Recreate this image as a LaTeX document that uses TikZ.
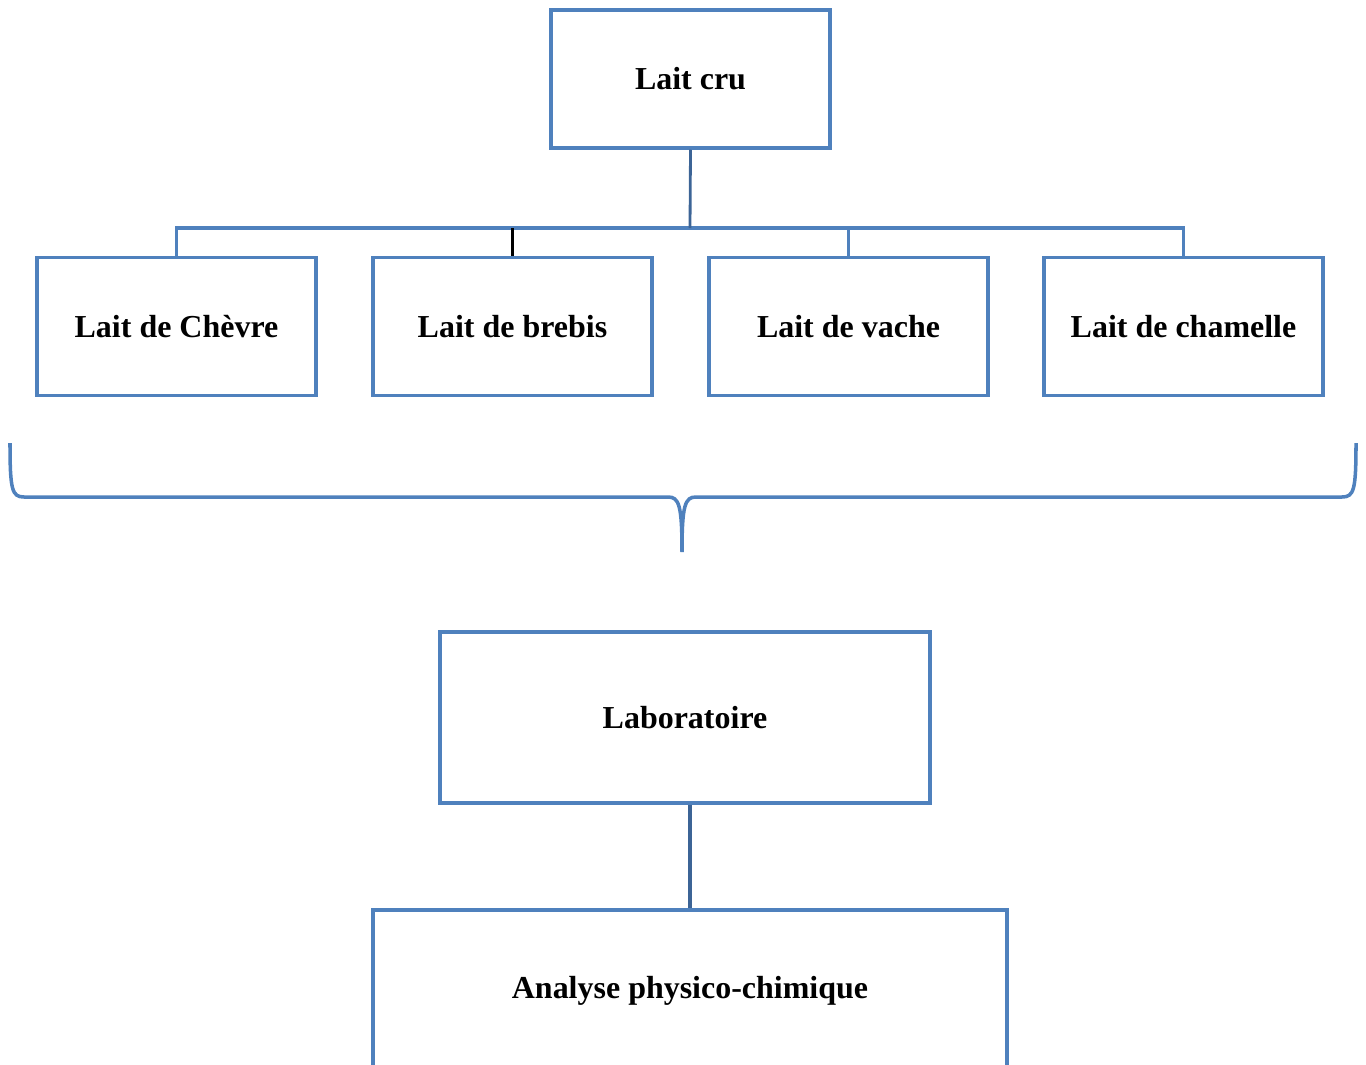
\documentclass[tikz,border=0pt]{standalone}
\usepackage{fontspec}
\setmainfont{Liberation Serif}
\definecolor{boxblue}{HTML}{4F81BD}
\definecolor{darkblue}{HTML}{3C6496}
\begin{document}
\begin{tikzpicture}[x=0.02cm,y=-0.02cm,
  box/.style={draw=boxblue,line width=2pt,rectangle,inner sep=0pt,
    minimum width=5.58cm,minimum height=2.76cm,font=\fontsize{18.2}{21}\selectfont\bfseries},
  conn/.style={draw=boxblue,line width=2pt},
]
\useasboundingbox (0,0) rectangle (1366,1065);
\clip (0,0) rectangle (1366,1065);
\node[box] (cru) at (690.5,79) {Lait cru};
\node[box] (chevre) at (176.5,326.5) {Lait de Chèvre};
\node[box] (brebis) at (512.5,326.5) {Lait de brebis};
\node[box] (vache) at (848.5,326.5) {Lait de vache};
\node[box] (chamelle) at (1183.5,326.5) {Lait de chamelle};
\node[box,minimum width=9.8cm,minimum height=3.42cm] (labo) at (685,717.5) {Laboratoire};
\node[box,minimum width=12.68cm,minimum height=3.24cm] (ana) at (690,991) {Analyse physico-chimique};
\coordinate (hub) at (690,228);
\draw[conn,line join=miter] (chevre.north) |- (hub) -| (chamelle.north);
\draw[draw=darkblue,line width=1.6pt] (cru.south) -- (hub);
\draw[black,line width=1.6pt] (brebis.north) -- (brebis.north |- hub);
\draw[conn] (vache.north) -- (vache.north |- hub);
\draw[draw=darkblue,line width=2.6pt] (labo.south -| ana.north) -- (ana.north);
\coordinate (bl) at (10,443);
\coordinate (br) at (1356,443);
\coordinate (tip) at (682,552);
\draw[conn] (bl) .. controls (10,490) and (12,497) .. (24,497) -- (668,497)
  .. controls (679,497) and (682,505) .. (tip)
  .. controls (682,505) and (685,497) .. (696,497) -- (1342,497)
  .. controls (1354,497) and (1356,490) .. (br);
\end{tikzpicture}
\end{document}
